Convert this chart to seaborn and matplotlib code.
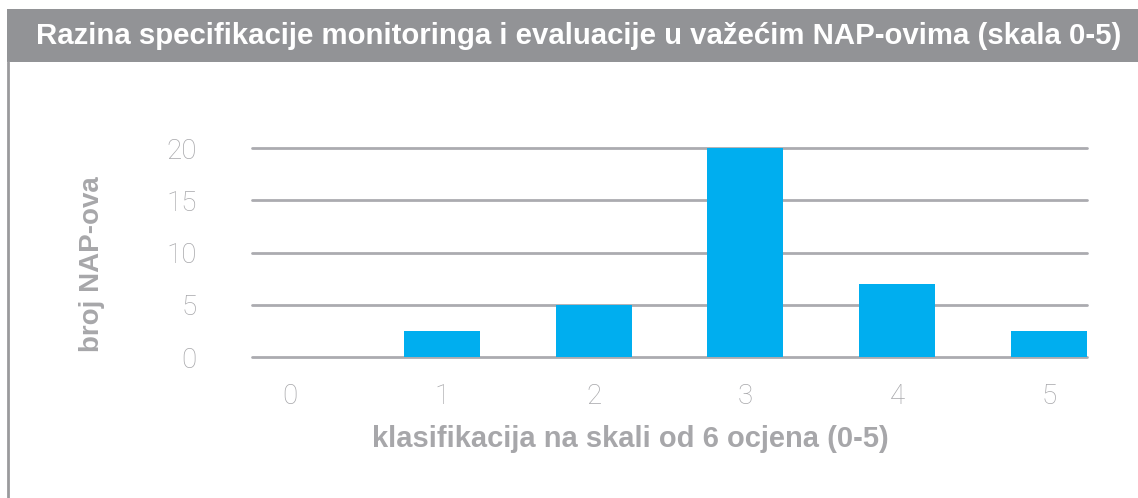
import matplotlib
matplotlib.use("Agg")
import matplotlib.pyplot as plt
import seaborn as sns
import pandas as pd
from matplotlib.patches import Rectangle
from matplotlib.lines import Line2D

# podaci (ocitano sa slike)
ocjene = ["0", "1", "2", "3", "4", "5"]
broj_napova = [0, 2.5, 5, 20, 7, 2.5]
y_ticks = [0, 5, 10, 15, 20]

naslov = "Razina specifikacije monitoringa i evaluacije u važećim NAP-ovima (skala 0-5)"
x_naziv = "klasifikacija na skali od 6 ocjena (0-5)"
y_naziv = "broj NAP-ova"

df = pd.DataFrame({"ocjena": ocjene, "broj": broj_napova})

sns.set_style("white")
plt.rcParams['font.family'] = ['Liberation Sans', 'DejaVu Sans']

siva_tekst = "#a7a7aa"
siva_crta = "#ababb0"
plava = "#00aeef"

fig = plt.figure(figsize=(11.38, 4.98), dpi=100)
ax = fig.add_axes([252/1138, 1 - 357/498, (1087 - 252)/1138, (357 - 148)/498])

sns.barplot(x="ocjena", y="broj", data=df, color=plava, width=0.5,
            saturation=1, ax=ax, zorder=3, linewidth=0, edgecolor="none")

ax.set_xlim(-0.25, 5.25)
ax.set_ylim(0, 20)
ax.set_yticks(y_ticks)
ax.grid(axis='y', color=siva_crta, linewidth=2, zorder=0)
for l in ax.get_ygridlines():
    l.set_clip_on(False)
for s in ax.spines.values():
    s.set_visible(False)

ax.tick_params(axis='both', length=0, labelcolor=siva_tekst)
ax.tick_params(axis='x', pad=19)
ax.tick_params(axis='y', pad=40)
for t in ax.get_xticklabels() + ax.get_yticklabels():
    t.set_fontfamily(['Roboto', 'Liberation Sans'])
    t.set_fontweight('light')
    t.set_fontsize(20)

ax.set_xlabel(x_naziv, fontsize=21, fontweight='bold', color=siva_tekst)
ax.set_ylabel(y_naziv, fontsize=20, fontweight='bold', color=siva_tekst)
ax.xaxis.set_label_coords((630 - 252)/835, (357 - 425)/209)
ax.yaxis.set_label_coords((105 - 252)/835, 0.445)

# naslovna traka
fig.patches.append(Rectangle((7/1138, 1 - 62/498), 1 - 7/1138, 53/498,
                             transform=fig.transFigure, facecolor="#929396",
                             edgecolor="none", zorder=0))
fig.lines.append(Line2D([8.3/1138, 8.3/1138], [0, 1 - 62/498],
                        transform=fig.transFigure, color="#9a9a9d", linewidth=2))
fig.text(36/1138, 1 - 36/498, naslov, ha='left', va='center',
         fontsize=21.2, fontweight='bold', color='white')

fig.savefig("out.png", dpi=100)
